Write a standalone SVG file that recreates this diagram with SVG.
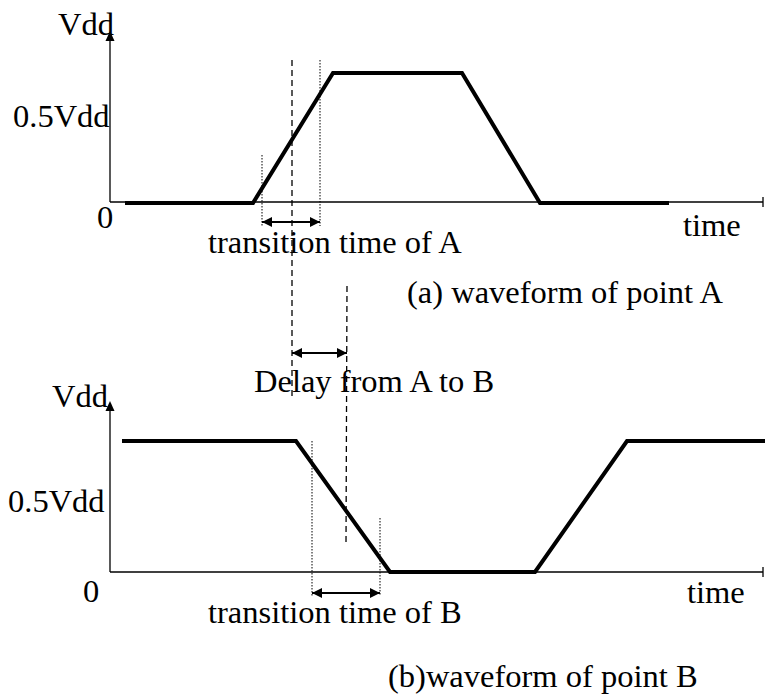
<svg xmlns="http://www.w3.org/2000/svg" width="765" height="697" viewBox="0 0 765 697">
<style>
text{font-family:"Liberation Serif","Times New Roman",serif;font-size:32.5px;fill:#000}
.axis{stroke:#000;stroke-width:1.3;fill:none}
.wave{stroke:#000;stroke-width:4;fill:none;stroke-linejoin:miter}
.dot{stroke:#000;stroke-width:1;stroke-dasharray:1.5 1.5;fill:none}
.dash{stroke:#000;stroke-width:1.3;stroke-dasharray:6 4;fill:none}
.dim{stroke:#000;stroke-width:2;fill:none}
</style>
<defs>
<marker id="ah" viewBox="0 0 10 10" refX="10" refY="5" markerWidth="10" markerHeight="10" markerUnits="userSpaceOnUse" orient="auto-start-reverse">
<path d="M0,0 L10,5 L0,10 Z" fill="#000"/>
</marker>
</defs>
<rect width="765" height="697" fill="#fff"/>
<g id="graphA">
<line class="axis" x1="110" y1="202" x2="110" y2="38"/>
<polygon points="110,31 105.5,41 114.5,41" fill="#000"/>
<line class="axis" x1="110" y1="202" x2="763" y2="202"/>
<line class="axis" x1="763" y1="197" x2="763" y2="207"/>
<polyline class="wave" points="125,203 253,203 333,73 462,73 540,203 669,203"/>
<text x="58" y="35">Vdd</text>
<text x="13" y="127">0.5Vdd</text>
<text x="97" y="228">0</text>
<text x="683" y="236">time</text>
<text x="208" y="253">transition time of A</text>
<text x="407" y="303">(a) waveform of point A</text>
</g>
<g id="delay">
<text x="254" y="392">Delay from A to B</text>
</g>
<g id="graphB">
<line class="axis" x1="110" y1="572" x2="110" y2="408"/>
<polygon points="110,401 105.5,411 114.5,411" fill="#000"/>
<line class="axis" x1="110" y1="572" x2="763" y2="572"/>
<line class="axis" x1="763" y1="567" x2="763" y2="577"/>
<polyline class="wave" points="122,441 296,441 390,572 535,572 627,441 765,441"/>
<text x="52" y="407">Vdd</text>
<text x="8" y="512">0.5Vdd</text>
<text x="83" y="602">0</text>
<text x="687" y="603">time</text>
<text x="208" y="623">transition time of B</text>
<text x="388" y="687">(b)waveform of point B</text>
</g>
<g id="connectors">
<line class="dot" x1="262" y1="155" x2="262" y2="226"/>
<line class="dot" x1="320" y1="60" x2="320" y2="226"/>
<line class="dash" x1="292" y1="60" x2="292" y2="400"/>
<line class="dim" x1="262" y1="222" x2="320" y2="222" marker-start="url(#ah)" marker-end="url(#ah)"/>
<line class="dash" x1="347" y1="286" x2="346" y2="545"/>
<line class="dim" x1="292" y1="353" x2="347" y2="353" marker-start="url(#ah)" marker-end="url(#ah)"/>
<line class="dot" x1="312" y1="441" x2="312" y2="596"/>
<line class="dot" x1="380" y1="518" x2="380" y2="596"/>
<line class="dim" x1="312" y1="593" x2="380" y2="593" marker-start="url(#ah)" marker-end="url(#ah)"/>
</g>
</svg>
